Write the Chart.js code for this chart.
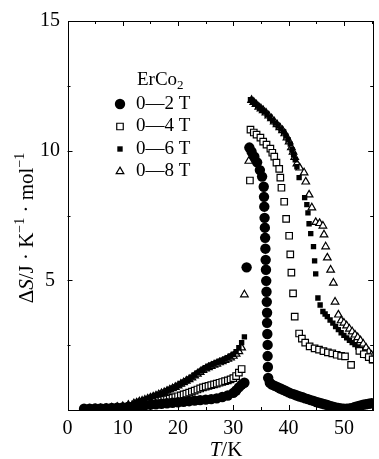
<!DOCTYPE html>
<html>
<head>
<meta charset="utf-8">
<script src="https://cdn.jsdelivr.net/npm/chart.js@4.4.0/dist/chart.umd.min.js"></script>
<style>
  body { margin: 0; background: #fff; }
  canvas { display: block; }
</style>
</head>
<body>
<canvas id="chart" width="379" height="459"></canvas>
<script>
// ErCo2 magnetic entropy change, [T (K), dS (J/K/mol)]
const field2T = [
  [3,0.05],[4,0.05],[5,0.06],[6,0.06],[7,0.07],[8,0.08],[9,0.09],[10,0.1],[11,0.12],[12,0.14],
  [13,0.16],[14,0.18],[15,0.2],[16,0.22],[17,0.24],[18,0.26],[19,0.28],[20,0.3],[21,0.32],[22,0.34],
  [23,0.36],[24,0.38],[25,0.4],[26,0.42],[27,0.45],[28,0.5],[29,0.56],[30,0.66],[30.5,0.75],[31,0.87],
  [31.5,0.98],[32,1.05],[32.4,5.5],
  [32.9,10.12],[33.3,9.96],[33.8,9.77],[34.3,9.55],[34.8,9.25],[35.2,9.0],
  [35.5,8.61],[35.55,8.22],[35.6,7.84],[35.65,7.41],[35.7,7.03],[35.75,6.64],[35.8,6.22],[35.85,5.79],
  [35.9,5.41],[35.95,4.98],[36,4.56],[36.05,4.17],[36.1,3.75],[36.1,3.36],[36.15,2.93],[36.2,2.51],
  [36.2,2.08],[36.25,1.66],[36.3,1.24],
  [36.6,1.05],[37,0.98],[37.5,0.93],[38,0.88],[38.5,0.83],[39,0.78],[39.5,0.73],[40,0.68],[40.5,0.63],
  [41,0.6],[41.5,0.56],[42,0.52],[42.5,0.49],[43,0.45],[43.5,0.42],[44,0.38],[44.5,0.35],[45,0.31],
  [45.5,0.28],[46,0.25],[46.5,0.22],[47,0.19],[47.5,0.16],[48,0.13],[48.5,0.1],[49,0.08],[49.5,0.06],
  [50,0.05],[50.5,0.05],[51,0.06],[51.5,0.08],[52,0.12],[52.5,0.15],[53,0.18],[53.5,0.2],[54,0.22],
  [54.5,0.24],[55,0.26]
];
const field4T = [
  [8,0.03],[9,0.05],[10,0.07],[11,0.1],[12,0.13],[13,0.17],[14,0.21],[15,0.26],[15.5,0.28],[16,0.31],
  [16.5,0.34],[17,0.37],[17.5,0.39],[18,0.41],[18.5,0.44],[19,0.47],[19.5,0.5],[20,0.53],[20.5,0.56],
  [21,0.6],[21.5,0.63],[22,0.67],[22.5,0.71],[23,0.75],[23.5,0.79],[24,0.83],[24.5,0.87],[25,0.9],
  [25.5,0.93],[26,0.96],[26.5,0.99],[27,1.02],[27.5,1.05],[28,1.08],[28.5,1.11],[29,1.14],[29.5,1.18],
  [30,1.23],[30.5,1.31],[31,1.44],[31.5,1.58],
  [33,8.85],
  [33.1,10.81],[33.7,10.7],[34.2,10.62],[34.9,10.5],[35.4,10.35],[36,10.23],[36.7,10.08],[37.05,9.92],
  [37.4,9.77],[37.8,9.54],[38.3,9.3],[38.5,8.96],[38.7,8.57],[39.2,8.03],[39.55,7.37],[40.1,6.72],
  [40.3,6.0],[40.5,5.3],[40.8,4.5],[41.1,3.6],[41.9,2.95],[42.4,2.75],[43,2.6],[43.8,2.45],[44.7,2.38],
  [45.5,2.33],[46.3,2.27],[47.1,2.22],[47.9,2.18],[48.7,2.13],[49.5,2.09],[50.2,2.07],[51.3,1.74],
  [52.8,2.28],[53.6,2.15],[54.5,2.04],[55.2,1.95]
];
const field6T = [
  [3,0.02],[4,0.03],[5,0.04],[6,0.05],[7,0.07],[8,0.09],[9,0.12],[10,0.15],[11,0.2],[12,0.26],
  [12.5,0.29],[13,0.33],[13.5,0.36],[14,0.4],[14.5,0.44],[15,0.48],[15.5,0.52],[16,0.56],[16.5,0.6],
  [17,0.65],[17.5,0.69],[18,0.74],[18.5,0.79],[19,0.84],[19.5,0.89],[20,0.95],[20.5,1.01],[21,1.07],
  [21.5,1.13],[22,1.2],[22.5,1.27],[23,1.35],[23.5,1.43],[24,1.5],[24.5,1.57],[25,1.63],[25.5,1.69],
  [26,1.74],[26.5,1.79],[27,1.83],[27.5,1.88],[28,1.92],[28.5,1.97],[29,2.02],[29.5,2.08],[30,2.15],
  [30.5,2.25],[31,2.4],[31.5,2.6],[32,2.82],
  [33.1,11.97],[33.5,11.9],[33.9,11.82],[34.4,11.72],[34.8,11.64],[35.2,11.57],[35.6,11.5],[36.1,11.4],
  [36.6,11.29],[37.1,11.17],[37.6,11.06],[38.1,10.95],[38.6,10.83],[39.1,10.72],[39.5,10.57],
  [39.9,10.42],[40.3,10.25],[40.6,10.04],[40.9,9.85],[41.2,9.65],[41.5,9.38],[41.9,8.96],[42.9,8.19],
  [43.3,7.92],[43.5,7.6],[43.7,7.18],[44,6.8],[44.5,6.3],[44.7,5.75],[44.9,5.25],[45.3,4.32],
  [45.7,4.05],[46.2,3.8],[46.6,3.7],[47,3.6],[47.5,3.47],[48,3.35],[48.5,3.22],[49,3.1],[49.5,2.98],
  [50,2.88],[50.5,2.78],[51,2.69],[51.5,2.6],[52,2.52],[52.5,2.43],[53,2.33],[53.5,2.22],[54,2.1],
  [54.5,1.99],[55,1.9]
];
const field8T = [
  [3,0.02],[4,0.03],[5,0.04],[6,0.05],[7,0.06],[8,0.08],[9,0.11],[10,0.14],[11,0.19],[12,0.25],
  [12.5,0.28],[13,0.32],[13.5,0.35],[14,0.39],[14.5,0.43],[15,0.47],[15.5,0.51],[16,0.55],[16.5,0.59],
  [17,0.64],[17.5,0.68],[18,0.73],[18.5,0.78],[19,0.83],[19.5,0.88],[20,0.94],[20.5,1.0],[21,1.06],
  [21.5,1.12],[22,1.18],[22.5,1.25],[23,1.32],[23.5,1.39],[24,1.46],[24.5,1.53],[25,1.59],[25.5,1.64],
  [26,1.69],[26.5,1.74],[27,1.78],[27.5,1.83],[28,1.87],[28.5,1.92],[29,1.97],[29.5,2.02],[30,2.08],
  [30.5,2.16],[31,2.26],[31.5,2.4],
  [32,4.45],[32.8,9.6],
  [33.3,11.95],[33.7,11.87],[34.1,11.79],[34.6,11.69],[35,11.62],[35.4,11.55],[35.9,11.46],[36.4,11.35],
  [36.9,11.24],[37.4,11.12],[37.9,11.01],[38.4,10.9],[38.9,10.78],[39.3,10.66],[39.7,10.5],[40.1,10.35],
  [40.5,10.12],[40.8,9.95],[41.1,9.75],[41.5,9.5],[42,9.34],[42.8,9.15],[43.1,8.8],[43.7,8.3],
  [44.2,7.8],[44.9,7.24],[45.6,7.2],[46.2,7.1],[46.4,6.76],[46.7,6.3],[47,5.87],[47.6,5.4],[48.1,4.9],
  [48.4,4.17],[49,3.67],[49.5,3.45],[50,3.36],[50.5,3.25],[51,3.13],[51.5,3.02],[52,2.9],[52.5,2.8],
  [53,2.68],[53.5,2.55],[54,2.4],[54.5,2.25],[55,2.12]
];

const seriesLabels = ['0\u20142 T', '0\u20144 T', '0\u20146 T', '0\u20148 T'];
const xTicks = [0, 10, 20, 30, 40, 50];
const yTicks = [5, 10, 15];

const SERIF = '"Liberation Serif", "DejaVu Serif", serif';

const toPts = (arr) => arr.map(([t, s]) => ({ x: t, y: s }));

const styles = [
  { pointStyle: 'circle', pointRadius: 5.2, backgroundColor: '#000', borderColor: '#000', borderWidth: 0 },
  { pointStyle: 'rect', pointRadius: 4.6, backgroundColor: '#fff', borderColor: '#000', borderWidth: 1.2 },
  { pointStyle: 'rect', pointRadius: 3.8, backgroundColor: '#000', borderColor: '#000', borderWidth: 0 },
  { pointStyle: 'triangle', pointRadius: 4.4, backgroundColor: '#fff', borderColor: '#000', borderWidth: 1.2 },
];

// frame, inward ticks, legend and axis titles
const decorations = {
  id: 'decorations',
  afterDraw(chart) {
    const { ctx, chartArea: a, scales: { x, y } } = chart;
    ctx.save();
    ctx.strokeStyle = '#000';
    ctx.lineWidth = 1;
    ctx.strokeRect(Math.round(a.left) + 0.5, Math.round(a.top) + 0.5,
      Math.round(a.right - a.left) - 1, Math.round(a.bottom - a.top));

    ctx.beginPath();
    for (let t = 5; t < x.max; t += 5) {
      const px = Math.round(x.getPixelForValue(t)) + 0.5;
      const len = t % 10 === 0 ? 5 : 3;
      ctx.moveTo(px, a.bottom); ctx.lineTo(px, a.bottom - len);
      ctx.moveTo(px, a.top); ctx.lineTo(px, a.top + len);
    }
    for (let s = 2.5; s < 15; s += 2.5) {
      const py = Math.round(y.getPixelForValue(s)) + 0.5;
      const len = s % 5 === 0 ? 5 : 3;
      ctx.moveTo(a.left, py); ctx.lineTo(a.left + len, py);
      ctx.moveTo(a.right, py); ctx.lineTo(a.right - len, py);
    }
    ctx.stroke();

    // legend
    ctx.fillStyle = '#000';
    ctx.textBaseline = 'middle';
    ctx.textAlign = 'left';
    ctx.font = '19px ' + SERIF;
    ctx.fillText('ErCo', 137, 80);
    const w = ctx.measureText('ErCo').width;
    ctx.font = '13px ' + SERIF;
    ctx.fillText('2', 137 + w, 86);

    seriesLabels.forEach((lab, i) => {
      const ly = 104 + i * 22.5;
      const st = styles[i];
      ctx.fillStyle = st.backgroundColor;
      ctx.strokeStyle = st.borderColor;
      ctx.lineWidth = st.borderWidth;
      Chart.helpers.drawPoint(ctx, { pointStyle: st.pointStyle, radius: st.pointRadius, borderWidth: st.borderWidth, rotation: 0 }, 120, ly);
      ctx.fillStyle = '#000';
      ctx.font = '19px ' + SERIF;
      ctx.fillText(lab, 136, ly);
    });

    // x title
    ctx.font = 'italic 21px ' + SERIF;
    const tW = ctx.measureText('T').width;
    ctx.font = '21px ' + SERIF;
    const kW = ctx.measureText('/K').width;
    const sx = 226 - (tW + kW) / 2;
    ctx.font = 'italic 21px ' + SERIF;
    ctx.fillText('T', sx, 450);
    ctx.font = '21px ' + SERIF;
    ctx.fillText('/K', sx + tW, 450);

    // y title, rotated
    const parts = [
      ['\u0394', '21px', 0], ['S', 'italic 21px', 0], ['/J \u00b7 K', '21px', 0],
      ['\u22121', '14px', -7], [' \u00b7 mol', '21px', 0], ['\u22121', '14px', -7]
    ];
    let total = 0;
    parts.forEach(p => { ctx.font = p[1] + ' ' + SERIF; total += ctx.measureText(p[0]).width; });
    ctx.translate(27, 228);
    ctx.rotate(-Math.PI / 2);
    let cx = -total / 2;
    parts.forEach(p => {
      ctx.font = p[1] + ' ' + SERIF;
      ctx.fillText(p[0], cx, p[2]);
      cx += ctx.measureText(p[0]).width;
    });
    ctx.restore();
  }
};

new Chart(document.getElementById('chart').getContext('2d'), {
  type: 'scatter',
  data: {
    datasets: [field2T, field4T, field6T, field8T].map((d, i) => ({
      label: seriesLabels[i],
      data: toPts(d),
      showLine: false,
      ...styles[i],
    })),
  },
  options: {
    responsive: false,
    animation: false,
    layout: { padding: { top: 21, right: 2, left: 0, bottom: 0 } },
    plugins: { legend: { display: false }, tooltip: { enabled: false } },
    scales: {
      x: {
        type: 'linear',
        min: 0,
        max: 55.3,
        grid: { display: false, drawTicks: false },
        border: { display: false },
        afterBuildTicks: (scale) => { scale.ticks = xTicks.map(v => ({ value: v })); },
        afterFit: (scale) => { scale.height = 49; },
        ticks: {
          padding: 7,
          color: '#000',
          maxRotation: 0,
          autoSkip: false,
          font: { family: SERIF, size: 20 },
        },
      },
      y: {
        type: 'linear',
        min: 0,
        max: 15,
        grid: { display: false, drawTicks: false },
        border: { display: false },
        afterBuildTicks: (scale) => { scale.ticks = yTicks.map(v => ({ value: v })); },
        afterFit: (scale) => { scale.width = 67.5; },
        ticks: {
          padding: 7.5,
          crossAlign: 'center',
          color: '#000',
          font: { family: SERIF, size: 20 },
        },
      },
    },
  },
  plugins: [decorations],
});
</script>
</body>
</html>
